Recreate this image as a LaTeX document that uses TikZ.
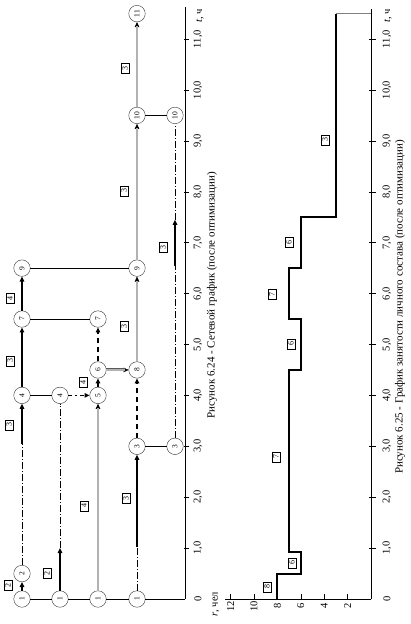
\documentclass[tikz,border=0pt]{standalone}
\usepackage{fontspec}
\setmainfont{Liberation Serif}
\usetikzlibrary{arrows.meta,positioning}

\begin{document}
\begin{tikzpicture}[rotate=90, transform shape, x=50.9pt, y=1pt,
    evt/.style={circle, draw=black!80, fill=white, inner sep=0pt,
      minimum size=16.5pt, font=\fontsize{7.5}{8}\selectfont},
    crewbox/.style={draw, fill=white, inner sep=0pt, minimum width=10pt,
      minimum height=8.5pt, font=\fontsize{8}{8}\selectfont},
    headed/.style={-{Triangle[length=5pt, width=4.5pt]}},
    job/.style={headed, line width=1.4pt},
    jobdash/.style={headed, line width=1.4pt, dash pattern=on 5pt off 4pt},
    dbltip/.style={headed, line width=0.4pt},
    jobdbl/.style={draw=black!65, double=black!30, double distance=1.3pt,
      line width=0.8pt, shorten >=4pt},
    reserve/.style={line width=0.4pt, dash pattern=on 7pt off 2pt on 1pt off 2pt},
    tie/.style={line width=0.5pt},
    axlabel/.style={font=\fontsize{10.5}{11}\selectfont},
    caption/.style={font=\fontsize{11}{12}\selectfont}]
  \useasboundingbox (-0.491,-39) rectangle (11.768,371);

  % time axis of the network
  \coordinate (t0) at (0,186);
  \coordinate (tend) at (11.63,186);
  \draw[tie] (t0) -- (tend);
  \node[axlabel] (nt0) at (0,173) {0};
  \foreach \t in {1,...,11} {
    \draw[tie] (\t,187) -- (\t,182);
    \node[axlabel] (nt\t) at (\t,173) {\t,0};
  }
  \node[axlabel] (ntu) at (11.45,171) {\textit{t}, ч};

  % events
  \node[evt] (a1) at (0,349)   {1};
  \node[evt] (a2) at (0.5,349) {2};
  \node[evt] (a4) at (4,349)   {4};
  \node[evt] (a7) at (5.5,349) {7};
  \node[evt] (a9) at (6.5,349) {9};
  \node[evt] (b1) at (0,311)   {1};
  \node[evt] (b4) at (4,311)   {4};
  \node[evt] (c1) at (0,273)   {1};
  \node[evt] (c5) at (4,273)   {5};
  \node[evt] (c6) at (4.5,273) {6};
  \node[evt] (c7) at (5.5,273) {7};
  \node[evt] (d1) at (0,234)   {1};
  \node[evt] (d3) at (3,234)   {3};
  \node[evt] (d8) at (4.5,234) {8};
  \node[evt] (d9) at (6.5,234) {9};
  \node[evt] (d10) at (9.5,234) {10};
  \node[evt] (d11) at (11.5,234) {11};
  \node[evt] (e3) at (3,196)   {3};
  \node[evt] (e10) at (9.5,196) {10};

  \coordinate (a2x) at (3.05,349);
  \coordinate (b1x) at (1,311);
  \coordinate (d1x) at (1.02,234);
  \coordinate (e6x) at (6.55,196);
  \coordinate (e7x) at (7.45,196);

  % ties between rows
  \draw[tie] (a1) -- (b1) -- (c1) -- (d1) -- (t0);
  \draw[tie] (a4) -- (b4);
  \draw[tie] (a7) -- (c7);
  \draw[tie] (a9) -- (d9);
  \draw[tie] (d3) -- (e3);
  \draw[tie] (d10) -- (e10);

  % works
  \draw[job] (a1) -- (a2);
  \draw[reserve] (a2) -- (a2x);
  \draw[job] (a2x) -- (a4);
  \draw[job] (a4) -- (a7);
  \draw[job] (a7) -- (a9);
  \draw[job] (b1) -- (b1x);
  \draw[reserve] (b1x) -- (b4);
  \draw[headed, line width=1.1pt, dash pattern=on 4pt off 3pt on 1.5pt off 3pt] (b4) -- (c5);
  \draw[dbltip] (c1) -- (c5);
  \draw[jobdbl] (c1) -- (c5);
  \draw[jobdash] (c5) -- (c6);
  \draw[jobdash] (c6) -- (c7);
  \draw[dbltip] (c6) -- (d8);
  \draw[jobdbl] (c6) -- (d8);
  \draw[reserve] (d1) -- (d1x);
  \draw[job] (d1x) -- (d3);
  \draw[jobdash] (d3) -- (d8);
  \draw[dbltip] (d8) -- (d9);
  \draw[jobdbl] (d8) -- (d9);
  \draw[dbltip] (d9) -- (d10);
  \draw[jobdbl] (d9) -- (d10);
  \draw[dbltip] (d10) -- (d11);
  \draw[jobdbl] (d10) -- (d11);
  \draw[reserve] (e3) -- (e6x);
  \draw[job] (e6x) -- (e7x);
  \draw[reserve] (e7x) -- (e10);

  % crews
  \node[crewbox] (ka12) at (0.27,363)  {2};
  \node[crewbox] (ka24) at (3.42,362)  {3};
  \node[crewbox] (ka47) at (4.68,361)  {3};
  \node[crewbox] (ka79) at (5.91,361)  {4};
  \node[crewbox] (kb14) at (0.51,324)  {2};
  \node[crewbox] (kc15) at (1.83,287)  {4};
  \node[crewbox] (kc56) at (4.26,288)  {4};
  \node[crewbox] (kd13) at (1.98,245)  {3};
  \node[crewbox] (kd89) at (5.36,247)  {3};
  \node[crewbox] (kd910) at (8.02,247) {3};
  \node[crewbox] (kd1011) at (10.43,246) {3};
  \node[crewbox] (ke310) at (6.91,208) {3};

  \node[caption] (cap1) at (5.97,159) {Рисунок 6.24 - Сетевой график (после оптимизации)};

  % staff load
  \coordinate (s0) at (0,0);
  \coordinate (send) at (11.6,0);
  \draw[tie] (s0) -- (send);
  \node[axlabel] (ns0) at (0,-16) {0};
  \foreach \t in {1,...,11} {
    \draw[tie] (\t,2) -- (\t,-5);
    \node[axlabel] (ns\t) at (\t,-16) {\t,0};
  }
  \node[axlabel] (nsu) at (11.45,-17) {\textit{t}, ч};

  \begin{scope}[y=11.7pt]
    \draw[tie] (0,0) -- (0,12.5);
    \foreach \p in {2,4,...,12} {
      \draw[tie] (-0.02,\p) -- (0.1,\p);
      \node[axlabel] (np\p) at (-0.14,\p) {\p};
    }
    \node[axlabel] (npu) at (-0.1,13.25) {\textit{r}, чел};
    \draw[line width=2pt] (0,8) -- (0.5,8) -- (0.5,6) -- (0.92,6) -- (0.92,7)
      -- (4.5,7) -- (4.5,6) -- (5.5,6) -- (5.5,7) -- (6.5,7) -- (6.5,6)
      -- (7.5,6) -- (7.5,3) -- (11.5,3);
    \draw[black!50, line width=0.8pt] (11.5,3) -- (11.5,0);
  \end{scope}

  \node[crewbox] (l1) at (0.24,104) {8};
  \node[crewbox] (l2) at (0.71,79)  {6};
  \node[crewbox] (l3) at (2.79,95)  {7};
  \node[crewbox] (l4) at (5.01,80)  {6};
  \node[crewbox] (l5) at (5.99,99)  {7};
  \node[crewbox] (l6) at (7.01,82)  {6};
  \node[crewbox] (l7) at (9.02,46)  {3};

  \node[caption] (cap2) at (5.74,-29) {Рисунок 6.25 - График занятости личного состава (после оптимизации)};
\end{tikzpicture}
\end{document}
